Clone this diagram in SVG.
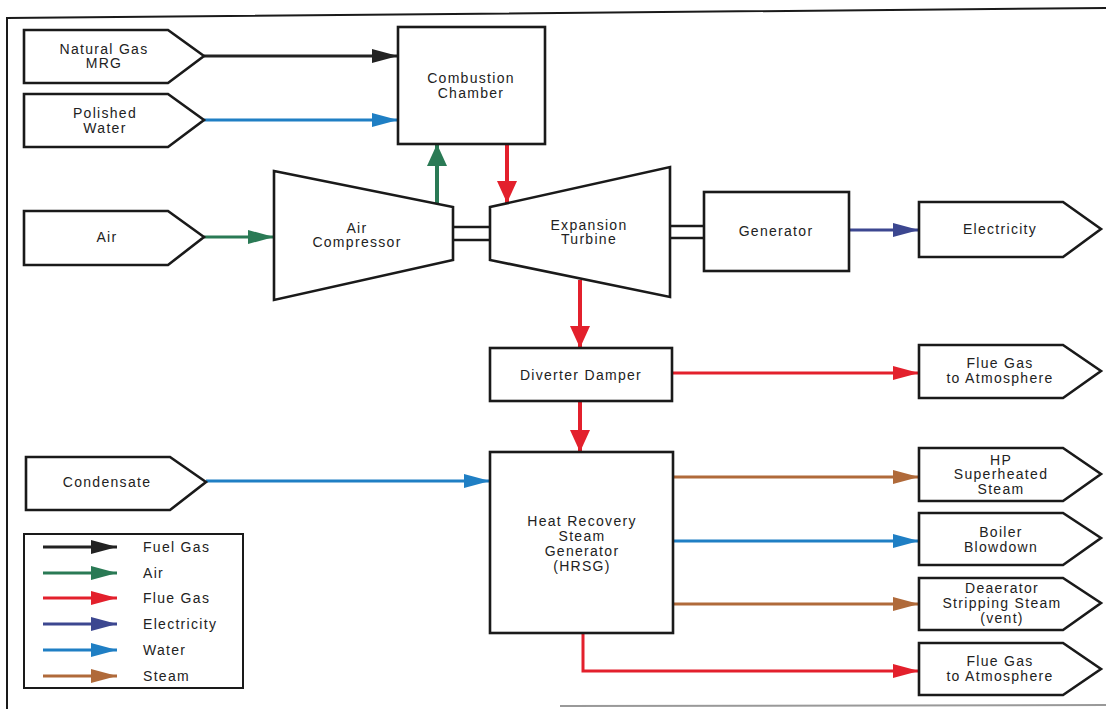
<svg xmlns="http://www.w3.org/2000/svg" width="1106" height="709" viewBox="0 0 1106 709">
<style>
.box{fill:#fff;stroke:#1a1a1a;stroke-width:2.6;stroke-linejoin:miter}
.t{font-family:"Liberation Sans",Arial,sans-serif;font-size:14px;letter-spacing:1.3px;fill:#222;text-anchor:middle}
.lt{font-family:"Liberation Sans",Arial,sans-serif;font-size:14px;letter-spacing:1.3px;fill:#222}
.c{fill:none;stroke-width:3}
.v{fill:none;stroke-width:4}
.k{stroke:#222}.g{stroke:#2a7a55}.r{stroke:#e3202c}.n{stroke:#3c4790}.b{stroke:#1f7fc4}.s{stroke:#b06a3a}
</style>
<defs>
<marker id="ak" markerUnits="userSpaceOnUse" markerWidth="26" markerHeight="14" refX="26" refY="7" orient="auto"><path d="M0,0 L26,7 L0,14 z" fill="#222"/></marker>
<marker id="ag" markerUnits="userSpaceOnUse" markerWidth="26" markerHeight="14" refX="26" refY="7" orient="auto"><path d="M0,0 L26,7 L0,14 z" fill="#2a7a55"/></marker>
<marker id="ar" markerUnits="userSpaceOnUse" markerWidth="26" markerHeight="14" refX="26" refY="7" orient="auto"><path d="M0,0 L26,7 L0,14 z" fill="#e3202c"/></marker>
<marker id="an" markerUnits="userSpaceOnUse" markerWidth="26" markerHeight="14" refX="26" refY="7" orient="auto"><path d="M0,0 L26,7 L0,14 z" fill="#3c4790"/></marker>
<marker id="ab" markerUnits="userSpaceOnUse" markerWidth="26" markerHeight="14" refX="26" refY="7" orient="auto"><path d="M0,0 L26,7 L0,14 z" fill="#1f7fc4"/></marker>
<marker id="as" markerUnits="userSpaceOnUse" markerWidth="26" markerHeight="14" refX="26" refY="7" orient="auto"><path d="M0,0 L26,7 L0,14 z" fill="#b06a3a"/></marker>
<marker id="vg" markerUnits="userSpaceOnUse" markerWidth="22" markerHeight="20" refX="22" refY="10" orient="auto"><path d="M0,0 L22,10 L0,20 z" fill="#2a7a55"/></marker>
<marker id="vr" markerUnits="userSpaceOnUse" markerWidth="22" markerHeight="20" refX="22" refY="10" orient="auto"><path d="M0,0 L22,10 L0,20 z" fill="#e3202c"/></marker>
</defs>
<rect width="1106" height="709" fill="#fff"/>
<g id="frame" fill="none" stroke="#1a1a1a" stroke-width="2">
<path d="M7,709 L7,18 L1106,8"/>
<path d="M560,706 L1106,705" stroke="#999" stroke-width="2"/>
</g>
<g id="connectors">
<path class="c k" d="M204,56 H398" marker-end="url(#ak)"/>
<path class="c b" d="M204,120 H398" marker-end="url(#ab)"/>
<path class="c g" d="M204,237 H274" marker-end="url(#ag)"/>
<path class="v g" d="M437,203 V144" marker-end="url(#vg)"/>
<path class="v r" d="M507,145 V203" marker-end="url(#vr)"/>
<path class="c n" d="M849,230 H919" marker-end="url(#an)"/>
<path class="v r" d="M580,280 V348" marker-end="url(#vr)"/>
<path class="c r" d="M672,373 H919" marker-end="url(#ar)"/>
<path class="v r" d="M580,401 V452" marker-end="url(#vr)"/>
<path class="c b" d="M206,481 H490" marker-end="url(#ab)"/>
<path class="c s" d="M673,477 H919" marker-end="url(#as)"/>
<path class="c b" d="M673,541 H919" marker-end="url(#ab)"/>
<path class="c s" d="M673,604 H919" marker-end="url(#as)"/>
<path class="c r" d="M583,633 V671 H919" marker-end="url(#ar)"/>
<g stroke="#1a1a1a" stroke-width="2.6">
<path d="M453,227 H490 M453,240 H490"/>
<path d="M670,226 H704 M670,238 H704"/>
</g>
</g>
<g id="natural-gas"><path class="box" d="M24,30 H168 L204,56 L168,83 H24 Z"/><text class="t" x="104" y="54">Natural Gas</text><text class="t" x="104" y="68">MRG</text></g>
<g id="polished-water"><path class="box" d="M24,94 H168 L204,120 L168,147 H24 Z"/><text class="t" x="105" y="118">Polished</text><text class="t" x="105" y="133">Water</text></g>
<g id="air"><path class="box" d="M24,211 H168 L204,237 L168,265 H24 Z"/><text class="t" x="107" y="242">Air</text></g>
<g id="condensate"><path class="box" d="M26,457 H170 L206,482 L170,510 H26 Z"/><text class="t" x="107" y="487">Condensate</text></g>
<g id="combustion-chamber"><rect class="box" x="398" y="27" width="147" height="117"/><text class="t" x="471" y="83">Combustion</text><text class="t" x="471" y="98">Chamber</text></g>
<g id="air-compressor"><path class="box" d="M274,171 L453,207 L453,260 L274,300 Z"/><text class="t" x="357" y="233">Air</text><text class="t" x="357" y="247">Compressor</text></g>
<g id="expansion-turbine"><path class="box" d="M490,207 L670,167 L670,297 L490,260 Z"/><text class="t" x="589" y="230">Expansion</text><text class="t" x="589" y="244">Turbine</text></g>
<g id="generator"><rect class="box" x="704" y="192" width="145" height="79"/><text class="t" x="776" y="236">Generator</text></g>
<g id="electricity"><path class="box" d="M919,202 H1063 L1101,229 L1063,257 H919 Z"/><text class="t" x="1000" y="234">Electricity</text></g>
<g id="diverter-damper"><rect class="box" x="490" y="348" width="182" height="53"/><text class="t" x="581" y="380">Diverter Damper</text></g>
<g id="flue-gas-1"><path class="box" d="M919,345 H1063 L1101,371 L1063,398 H919 Z"/><text class="t" x="1000" y="368">Flue Gas</text><text class="t" x="1000" y="383">to Atmosphere</text></g>
<g id="hrsg"><rect class="box" x="490" y="452" width="183" height="181"/><text class="t" x="582" y="526">Heat Recovery</text><text class="t" x="582" y="541">Steam</text><text class="t" x="582" y="556">Generator</text><text class="t" x="582" y="571">(HRSG)</text></g>
<g id="hp-steam"><path class="box" d="M919,448 H1063 L1101,474 L1063,501 H919 Z"/><text class="t" x="1001" y="465">HP</text><text class="t" x="1001" y="479">Superheated</text><text class="t" x="1001" y="494">Steam</text></g>
<g id="boiler-blowdown"><path class="box" d="M919,513 H1063 L1101,538 L1063,565 H919 Z"/><text class="t" x="1001" y="537">Boiler</text><text class="t" x="1001" y="552">Blowdown</text></g>
<g id="deaerator"><path class="box" d="M919,578 H1063 L1101,603 L1063,630 H919 Z"/><text class="t" x="1002" y="593">Deaerator</text><text class="t" x="1002" y="608">Stripping Steam</text><text class="t" x="1002" y="623">(vent)</text></g>
<g id="flue-gas-2"><path class="box" d="M919,643 H1063 L1101,669 L1063,695 H919 Z"/><text class="t" x="1000" y="666">Flue Gas</text><text class="t" x="1000" y="681">to Atmosphere</text></g>
<g id="legend">
<rect x="24" y="534" width="219" height="154" fill="#fff" stroke="#1a1a1a" stroke-width="2"/>
<path class="c k" d="M43,547 H117" marker-end="url(#ak)"/>
<path class="c g" d="M43,573 H117" marker-end="url(#ag)"/>
<path class="c r" d="M43,598 H117" marker-end="url(#ar)"/>
<path class="c n" d="M43,624 H117" marker-end="url(#an)"/>
<path class="c b" d="M43,650 H117" marker-end="url(#ab)"/>
<path class="c s" d="M43,676 H117" marker-end="url(#as)"/>
<text class="lt" x="143" y="552">Fuel Gas</text>
<text class="lt" x="143" y="578">Air</text>
<text class="lt" x="143" y="603">Flue Gas</text>
<text class="lt" x="143" y="629">Electricity</text>
<text class="lt" x="143" y="655">Water</text>
<text class="lt" x="143" y="681">Steam</text>
</g>
</svg>
